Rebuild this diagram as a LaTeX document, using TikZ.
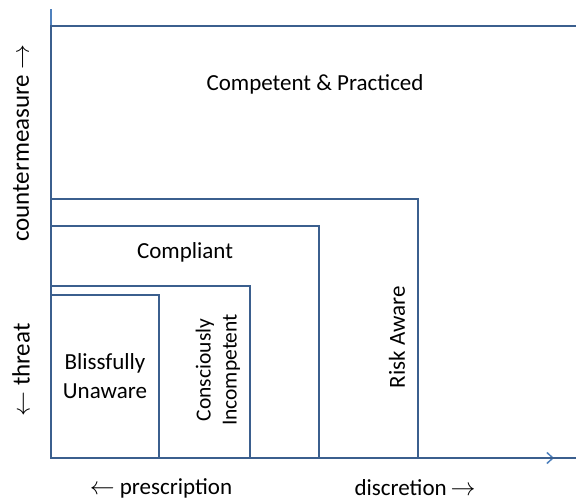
\documentclass[tikz,border=0pt]{standalone}
\usepackage{fontspec}
\setmainfont{Carlito}
\usetikzlibrary{arrows.meta}
\definecolor{boxblue}{HTML}{3B5F8E}
\definecolor{axisblue}{HTML}{4F81BD}
\tikzset{
  zone/.style={draw=boxblue, line width=2.7pt},
  axisline/.style={draw=axisblue, line width=1.5pt},
  lbl/.style={font=\fontsize{23}{28}\selectfont, text=black, inner sep=0pt, align=center},
  sidelbl/.style={lbl, rotate=90, font=\fontsize{25}{30}\selectfont},
}
\newcommand{\la}{\ensuremath{\leftarrow}}
\newcommand{\ra}{\ensuremath{\rightarrow}}
\begin{document}
\begin{tikzpicture}[x=1pt,y=-1pt]
\useasboundingbox (0,0) rectangle (576,502);
% axes
\coordinate (O) at (51,458);
\coordinate (ytop) at (51,9);
\coordinate (xend) at (554,458);
\draw[axisline] (O) -- (ytop);
\draw[axisline, -{Straight Barb[length=6pt,width=11pt,line width=1.5pt]}] (O) -- (xend);
% zones
\draw[zone] (576,26) -- (51,26) -- (51,458) -- (576,458);
\draw[zone] (51,458) -- (51,199) -- (418,199) -- (418,458);
\draw[zone] (51,458) -- (51,226) -- (319,226) -- (319,458);
\draw[zone] (51,458) -- (51,286) -- (250,286) -- (250,458);
\draw[zone] (51,458) -- (51,295) -- (159,295) -- (159,458);
% labels
\node[lbl] (cp) at (315,84) {Competent \& Practiced};
\node[lbl] (co) at (185,252) {Compliant};
\node[lbl] (bu) at (105,376) {Blissfully\\[1pt]Unaware};
\node[lbl, rotate=90, font=\fontsize{21.5}{26}\selectfont] (ci) at (218,370) {Consciously\\Incompetent};
\node[lbl, rotate=90] (ra) at (397,337) {Risk Aware};
\node[sidelbl] (cm) at (21,143) {countermeasure \ra};
\node[sidelbl] (th) at (21,370) {\la{} threat};
\node[lbl] (pr) at (161,488) {\la{} prescription};
\node[lbl] (di) at (415,488) {discretion\,\ra};
\end{tikzpicture}
\end{document}
